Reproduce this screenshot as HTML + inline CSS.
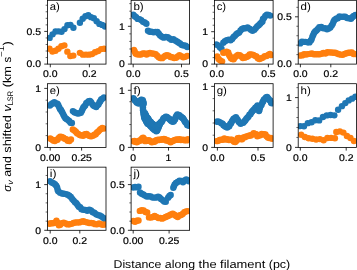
<!DOCTYPE html><html><head><meta charset="utf-8"><style>html,body{margin:0;padding:0;background:#fff;}svg{display:block;will-change:transform;} .L{stroke:none;}text{font-family:"Liberation Sans",sans-serif;fill:#000;stroke:#000;stroke-width:0.2px;text-rendering:geometricPrecision;}</style></head><body>
<svg width="357" height="270" viewBox="0 0 357 270">
<rect width="357" height="270" fill="#fff"/>
<defs>
<clipPath id="ca"><rect x="47.45" y="0.3" width="58.55" height="63.8"/></clipPath>
<clipPath id="cb"><rect x="131.1" y="0.3" width="58.5" height="63.8"/></clipPath>
<clipPath id="cc"><rect x="214.4" y="0.3" width="58.7" height="63.8"/></clipPath>
<clipPath id="cd"><rect x="298.2" y="0.3" width="58.2" height="63.8"/></clipPath>
<clipPath id="ce"><rect x="47.45" y="83.7" width="58.55" height="63.7"/></clipPath>
<clipPath id="cf"><rect x="131.1" y="83.7" width="58.5" height="63.7"/></clipPath>
<clipPath id="cg"><rect x="214.4" y="83.7" width="58.7" height="63.7"/></clipPath>
<clipPath id="ch"><rect x="298.2" y="83.7" width="58.2" height="63.7"/></clipPath>
<clipPath id="ci"><rect x="47.45" y="167.15" width="58.55" height="63.15"/></clipPath>
<clipPath id="cj"><rect x="131.1" y="167.15" width="58.5" height="63.15"/></clipPath>
</defs>
<g clip-path="url(#ca)">
<g fill="#1f77b4"><circle cx="49.6" cy="37.88" r="3.2"/><circle cx="52.58" cy="34.37" r="3.2"/><circle cx="55.55" cy="31.48" r="3.2"/><circle cx="58.53" cy="31.33" r="3.2"/><circle cx="61.5" cy="31.69" r="3.2"/><circle cx="64.48" cy="29.11" r="3.2"/><circle cx="67.45" cy="25.31" r="3.2"/><circle cx="70.43" cy="24.91" r="3.2"/><circle cx="73.4" cy="27.81" r="3.2"/><circle cx="79.9" cy="22.7" r="3.2"/><circle cx="82.69" cy="18.77" r="3.2"/><circle cx="85.48" cy="16.3" r="3.2"/><circle cx="88.27" cy="15.2" r="3.2"/><circle cx="91.06" cy="17.17" r="3.2"/><circle cx="93.84" cy="18.17" r="3.2"/><circle cx="96.63" cy="21.31" r="3.2"/><circle cx="99.42" cy="23.91" r="3.2"/><circle cx="102.21" cy="24.92" r="3.2"/><circle cx="105" cy="26.48" r="3.2"/></g>
<g fill="#ff7f0e"><circle cx="49.5" cy="48.76" r="3.2"/><circle cx="52.48" cy="51.43" r="3.2"/><circle cx="55.45" cy="50.8" r="3.2"/><circle cx="58.42" cy="48.75" r="3.2"/><circle cx="61.4" cy="46.24" r="3.2"/><circle cx="64.38" cy="45.33" r="3.2"/><circle cx="67.35" cy="51.66" r="3.2"/><circle cx="70.32" cy="56" r="3.2"/><circle cx="73.3" cy="55.58" r="3.2"/><circle cx="79.9" cy="52.83" r="3.2"/><circle cx="82.94" cy="54.63" r="3.2"/><circle cx="85.98" cy="54.59" r="3.2"/><circle cx="89.01" cy="54.67" r="3.2"/><circle cx="92.05" cy="54.12" r="3.2"/><circle cx="95.09" cy="52.3" r="3.2"/><circle cx="98.12" cy="51.12" r="3.2"/><circle cx="101.16" cy="49.11" r="3.2"/><circle cx="104.2" cy="48.8" r="3.2"/></g>
</g>
<path d="M47.45 57.56h-1.8M47.45 51.02h-1.8M47.45 44.48h-1.8M47.45 37.94h-1.8M47.45 24.86h-1.8M47.45 18.32h-1.8M47.45 11.78h-1.8M47.45 5.24h-1.8" stroke="#000" stroke-width="0.6" fill="none"/>
<path d="M47.45 64.1h-3.2M47.45 31.4h-3.2M50.3 64.1v3.2M89.4 64.1v3.2" stroke="#000" stroke-width="0.8" fill="none"/>
<rect x="47.45" y="0.3" width="58.55" height="63.8" fill="none" stroke="#000" stroke-width="0.8"/>
<text x="41.05" y="67.45" font-size="9.6" text-anchor="end" textLength="14.5" lengthAdjust="spacingAndGlyphs">0.0</text>
<text x="41.05" y="34.75" font-size="9.6" text-anchor="end" textLength="14.5" lengthAdjust="spacingAndGlyphs">0.5</text>
<text x="50.3" y="77.43" font-size="9.6" text-anchor="middle" textLength="14.5" lengthAdjust="spacingAndGlyphs">0.0</text>
<text x="89.4" y="77.43" font-size="9.6" text-anchor="middle" textLength="14.5" lengthAdjust="spacingAndGlyphs">0.2</text>
<text class="L" x="49.75" y="10.2" font-size="10.6" textLength="10.03" lengthAdjust="spacingAndGlyphs">a)</text>
<g clip-path="url(#cb)">
<g fill="#1f77b4"><circle cx="133.3" cy="14.59" r="3.2"/><circle cx="134.7" cy="16.15" r="3.2"/><circle cx="136.13" cy="17.16" r="3.2"/><circle cx="137.78" cy="18.89" r="3.2"/><circle cx="139.49" cy="19.09" r="3.2"/><circle cx="141.24" cy="20.08" r="3.2"/><circle cx="143.04" cy="21.85" r="3.2"/><circle cx="144.75" cy="22.49" r="3.2"/><circle cx="146.4" cy="23.69" r="3.2"/><circle cx="148" cy="30.63" r="3.2"/><circle cx="149.67" cy="31.82" r="3.2"/><circle cx="151.47" cy="31.72" r="3.2"/><circle cx="153.46" cy="32.24" r="3.2"/><circle cx="155.45" cy="32" r="3.2"/><circle cx="157.44" cy="31.88" r="3.2"/><circle cx="158.83" cy="33.69" r="3.2"/><circle cx="160.18" cy="35.55" r="3.2"/><circle cx="161.94" cy="36.75" r="3.2"/><circle cx="163.75" cy="37.67" r="3.2"/><circle cx="165.79" cy="36.83" r="3.2"/><circle cx="167.74" cy="37.18" r="3.2"/><circle cx="169.47" cy="38.39" r="3.2"/><circle cx="171.29" cy="39.87" r="3.2"/><circle cx="173.34" cy="39.29" r="3.2"/><circle cx="175.24" cy="40.54" r="3.2"/><circle cx="176.99" cy="41.44" r="3.2"/><circle cx="178.44" cy="42.54" r="3.2"/><circle cx="180.03" cy="43.48" r="3.2"/><circle cx="181.85" cy="45.05" r="3.2"/><circle cx="183.86" cy="45.47" r="3.2"/><circle cx="185.61" cy="45.59" r="3.2"/><circle cx="187.2" cy="47.03" r="3.2"/></g>
<g fill="#ff7f0e"><circle cx="133.9" cy="49.85" r="3.2"/><circle cx="134.72" cy="51.39" r="3.2"/><circle cx="135.55" cy="53.54" r="3.2"/><circle cx="136.99" cy="54.2" r="3.2"/><circle cx="138.91" cy="54.6" r="3.2"/><circle cx="140.9" cy="54.54" r="3.2"/><circle cx="142.82" cy="53.55" r="3.2"/><circle cx="144.72" cy="53.52" r="3.2"/><circle cx="146.58" cy="54.56" r="3.2"/><circle cx="148.1" cy="53.52" r="3.2"/><circle cx="149.94" cy="53" r="3.2"/><circle cx="151.86" cy="53.53" r="3.2"/><circle cx="153.85" cy="53.72" r="3.2"/><circle cx="155.66" cy="54.3" r="3.2"/><circle cx="157.21" cy="55.65" r="3.2"/><circle cx="158.75" cy="57.33" r="3.2"/><circle cx="160.3" cy="58.06" r="3.2"/><circle cx="162.23" cy="58.15" r="3.2"/><circle cx="164.04" cy="56.76" r="3.2"/><circle cx="165.42" cy="55.61" r="3.2"/><circle cx="166.94" cy="55.24" r="3.2"/><circle cx="168.71" cy="55.74" r="3.2"/><circle cx="170.49" cy="57.06" r="3.2"/><circle cx="172.28" cy="57.27" r="3.2"/><circle cx="174.13" cy="58.09" r="3.2"/><circle cx="176.07" cy="57.8" r="3.2"/><circle cx="177.81" cy="56.4" r="3.2"/><circle cx="179.47" cy="55.23" r="3.2"/><circle cx="181.36" cy="56.25" r="3.2"/><circle cx="183.29" cy="57.23" r="3.2"/><circle cx="185.24" cy="56.84" r="3.2"/><circle cx="187.2" cy="55.9" r="3.2"/></g>
</g>
<path d="M131.1 56.54h-1.8M131.1 48.98h-1.8M131.1 41.42h-1.8M131.1 33.86h-1.8M131.1 18.74h-1.8M131.1 11.18h-1.8M131.1 3.62h-1.8" stroke="#000" stroke-width="0.6" fill="none"/>
<path d="M131.1 64.1h-3.2M131.1 26.3h-3.2M133.2 64.1v3.2M181.5 64.1v3.2" stroke="#000" stroke-width="0.8" fill="none"/>
<rect x="131.1" y="0.3" width="58.5" height="63.8" fill="none" stroke="#000" stroke-width="0.8"/>
<text x="124.7" y="67.45" font-size="9.6" text-anchor="end" textLength="5.8" lengthAdjust="spacingAndGlyphs">0</text>
<text x="124.7" y="29.65" font-size="9.6" text-anchor="end" textLength="5.8" lengthAdjust="spacingAndGlyphs">1</text>
<text x="133.2" y="77.43" font-size="9.6" text-anchor="middle" textLength="14.5" lengthAdjust="spacingAndGlyphs">0.0</text>
<text x="181.5" y="77.43" font-size="9.6" text-anchor="middle" textLength="14.5" lengthAdjust="spacingAndGlyphs">0.5</text>
<text class="L" x="133.4" y="10.2" font-size="10.6" textLength="10.25" lengthAdjust="spacingAndGlyphs">b)</text>
<g clip-path="url(#cc)">
<g fill="#1f77b4"><circle cx="216.3" cy="44.46" r="3.2"/><circle cx="218.13" cy="45.35" r="3.2"/><circle cx="219.85" cy="47.36" r="3.2"/><circle cx="221.5" cy="48.68" r="3.2"/><circle cx="223.3" cy="42.82" r="3.2"/><circle cx="224.96" cy="41.31" r="3.2"/><circle cx="226.7" cy="40.32" r="3.2"/><circle cx="228.58" cy="39.62" r="3.2"/><circle cx="230.56" cy="40.34" r="3.2"/><circle cx="232.12" cy="38.99" r="3.2"/><circle cx="233.52" cy="36.99" r="3.2"/><circle cx="234.91" cy="35.86" r="3.2"/><circle cx="236.31" cy="34.22" r="3.2"/><circle cx="237.71" cy="33.17" r="3.2"/><circle cx="239.11" cy="32.59" r="3.2"/><circle cx="240.51" cy="30.46" r="3.2"/><circle cx="242.01" cy="28.95" r="3.2"/><circle cx="243.76" cy="28.28" r="3.2"/><circle cx="245.63" cy="28.25" r="3.2"/><circle cx="247.54" cy="27.42" r="3.2"/><circle cx="249.42" cy="28.58" r="3.2"/><circle cx="250.9" cy="29.81" r="3.2"/><circle cx="252.51" cy="30.81" r="3.2"/><circle cx="254.38" cy="29.81" r="3.2"/><circle cx="255.81" cy="28.08" r="3.2"/><circle cx="257.22" cy="26.35" r="3.2"/><circle cx="258.73" cy="25.29" r="3.2"/><circle cx="260.16" cy="23.79" r="3.2"/><circle cx="261.46" cy="22.33" r="3.2"/><circle cx="262.47" cy="21.49" r="3.2"/><circle cx="262.97" cy="18.84" r="3.2"/><circle cx="263.94" cy="18.1" r="3.2"/><circle cx="265.33" cy="15.96" r="3.2"/><circle cx="266.85" cy="14.68" r="3.2"/><circle cx="268.5" cy="14.85" r="3.2"/><circle cx="270.2" cy="15.62" r="3.2"/></g>
<g fill="#ff7f0e"><circle cx="217.2" cy="56.44" r="3.2"/><circle cx="218.61" cy="58.94" r="3.2"/><circle cx="220.11" cy="60.36" r="3.2"/><circle cx="222.1" cy="61.45" r="3.2"/><circle cx="223.3" cy="52.69" r="3.2"/><circle cx="224.96" cy="52.46" r="3.2"/><circle cx="226.62" cy="51.77" r="3.2"/><circle cx="228.28" cy="52.55" r="3.2"/><circle cx="229.13" cy="54.92" r="3.2"/><circle cx="229.86" cy="56.13" r="3.2"/><circle cx="230.95" cy="58.18" r="3.2"/><circle cx="232.36" cy="59.02" r="3.2"/><circle cx="233.63" cy="59.33" r="3.2"/><circle cx="234.83" cy="57.49" r="3.2"/><circle cx="236.26" cy="56.09" r="3.2"/><circle cx="237.89" cy="55.07" r="3.2"/><circle cx="239.75" cy="55.32" r="3.2"/><circle cx="241.38" cy="56.41" r="3.2"/><circle cx="242.81" cy="57.99" r="3.2"/><circle cx="244.53" cy="57.67" r="3.2"/><circle cx="246.35" cy="57.02" r="3.2"/><circle cx="248.01" cy="56.23" r="3.2"/><circle cx="249.67" cy="54.46" r="3.2"/><circle cx="251.37" cy="54.33" r="3.2"/><circle cx="253.32" cy="54.84" r="3.2"/><circle cx="254.94" cy="55.85" r="3.2"/><circle cx="256.47" cy="56.49" r="3.2"/><circle cx="257.87" cy="58.34" r="3.2"/><circle cx="259.4" cy="59.02" r="3.2"/><circle cx="261.28" cy="58.23" r="3.2"/><circle cx="262.96" cy="57.62" r="3.2"/><circle cx="264.69" cy="56.11" r="3.2"/><circle cx="266.56" cy="56.08" r="3.2"/><circle cx="268.24" cy="54.99" r="3.2"/><circle cx="269.86" cy="54.04" r="3.2"/><circle cx="271.4" cy="55.15" r="3.2"/></g>
</g>
<path d="M214.4 57.62h-1.8M214.4 51.14h-1.8M214.4 44.66h-1.8M214.4 38.18h-1.8M214.4 25.22h-1.8M214.4 18.74h-1.8M214.4 12.26h-1.8M214.4 5.78h-1.8" stroke="#000" stroke-width="0.6" fill="none"/>
<path d="M214.4 64.1h-3.2M214.4 31.7h-3.2M216.8 64.1v3.2M268.4 64.1v3.2" stroke="#000" stroke-width="0.8" fill="none"/>
<rect x="214.4" y="0.3" width="58.7" height="63.8" fill="none" stroke="#000" stroke-width="0.8"/>
<text x="208" y="67.45" font-size="9.6" text-anchor="end" textLength="5.8" lengthAdjust="spacingAndGlyphs">0</text>
<text x="208" y="35.05" font-size="9.6" text-anchor="end" textLength="5.8" lengthAdjust="spacingAndGlyphs">1</text>
<text x="216.8" y="77.43" font-size="9.6" text-anchor="middle" textLength="14.5" lengthAdjust="spacingAndGlyphs">0.0</text>
<text x="268.4" y="77.43" font-size="9.6" text-anchor="middle" textLength="14.5" lengthAdjust="spacingAndGlyphs">0.5</text>
<text class="L" x="216.7" y="10.2" font-size="10.6" textLength="9.4" lengthAdjust="spacingAndGlyphs">c)</text>
<g clip-path="url(#cd)">
<g fill="#1f77b4"><circle cx="300.2" cy="43.41" r="3.2"/><circle cx="301.88" cy="41.75" r="3.2"/><circle cx="303.66" cy="41.85" r="3.2"/><circle cx="305.57" cy="41.9" r="3.2"/><circle cx="307.54" cy="42.37" r="3.2"/><circle cx="309.37" cy="42.38" r="3.2"/><circle cx="310.84" cy="40.51" r="3.2"/><circle cx="311.6" cy="39.34" r="3.2"/><circle cx="312.35" cy="36.63" r="3.2"/><circle cx="313.19" cy="35.03" r="3.2"/><circle cx="314.04" cy="32.89" r="3.2"/><circle cx="315.15" cy="31.38" r="3.2"/><circle cx="316.48" cy="30.44" r="3.2"/><circle cx="317.88" cy="28.98" r="3.2"/><circle cx="319.3" cy="27.23" r="3.2"/><circle cx="321.3" cy="27.05" r="3.2"/><circle cx="323.24" cy="28.36" r="3.2"/><circle cx="325.14" cy="28.24" r="3.2"/><circle cx="327.03" cy="29.2" r="3.2"/><circle cx="328.72" cy="28.55" r="3.2"/><circle cx="330.28" cy="27.4" r="3.2"/><circle cx="331.7" cy="25.41" r="3.2"/><circle cx="332.74" cy="23.83" r="3.2"/><circle cx="333.49" cy="21.73" r="3.2"/><circle cx="334.44" cy="20.01" r="3.2"/><circle cx="336.11" cy="18.79" r="3.2"/><circle cx="337.79" cy="18.16" r="3.2"/><circle cx="339.48" cy="16.49" r="3.2"/><circle cx="341.37" cy="16.87" r="3.2"/><circle cx="343.26" cy="16.72" r="3.2"/><circle cx="345.16" cy="16.63" r="3.2"/><circle cx="347.08" cy="18.01" r="3.2"/><circle cx="349.04" cy="18.34" r="3.2"/><circle cx="351" cy="18.81" r="3.2"/><circle cx="352.33" cy="17.19" r="3.2"/><circle cx="353.66" cy="16.05" r="3.2"/><circle cx="355.5" cy="14.86" r="3.2"/></g>
<g fill="#ff7f0e"><circle cx="300.2" cy="55.55" r="3.2"/><circle cx="302.12" cy="55.42" r="3.2"/><circle cx="304.04" cy="54.28" r="3.2"/><circle cx="306" cy="54.54" r="3.2"/><circle cx="307.95" cy="54.09" r="3.2"/><circle cx="309.9" cy="53.86" r="3.2"/><circle cx="311.85" cy="53.43" r="3.2"/><circle cx="313.8" cy="54.22" r="3.2"/><circle cx="315.75" cy="54.29" r="3.2"/><circle cx="317.71" cy="54.31" r="3.2"/><circle cx="319.66" cy="54.2" r="3.2"/><circle cx="321.6" cy="53.82" r="3.2"/><circle cx="323.49" cy="53.07" r="3.2"/><circle cx="325.41" cy="53.59" r="3.2"/><circle cx="327.37" cy="52.32" r="3.2"/><circle cx="329.33" cy="52.39" r="3.2"/><circle cx="331.29" cy="52.38" r="3.2"/><circle cx="333.22" cy="52.77" r="3.2"/><circle cx="335.14" cy="52.69" r="3.2"/><circle cx="337.04" cy="53.46" r="3.2"/><circle cx="338.94" cy="54.17" r="3.2"/><circle cx="340.87" cy="54.63" r="3.2"/><circle cx="342.8" cy="54.87" r="3.2"/><circle cx="344.73" cy="53.84" r="3.2"/><circle cx="346.6" cy="53.3" r="3.2"/><circle cx="348.43" cy="52.73" r="3.2"/><circle cx="350.22" cy="52.63" r="3.2"/><circle cx="351.89" cy="52.55" r="3.2"/><circle cx="353.58" cy="54.07" r="3.2"/><circle cx="355.4" cy="54.12" r="3.2"/></g>
</g>
<path d="M298.2 54.64h-1.8M298.2 45.18h-1.8M298.2 35.72h-1.8M298.2 26.26h-1.8M298.2 7.34h-1.8" stroke="#000" stroke-width="0.6" fill="none"/>
<path d="M298.2 64.1h-3.2M298.2 16.8h-3.2M300.4 64.1v3.2M330.8 64.1v3.2" stroke="#000" stroke-width="0.8" fill="none"/>
<rect x="298.2" y="0.3" width="58.2" height="63.8" fill="none" stroke="#000" stroke-width="0.8"/>
<text x="291.8" y="67.45" font-size="9.6" text-anchor="end" textLength="14.5" lengthAdjust="spacingAndGlyphs">0.0</text>
<text x="291.8" y="20.15" font-size="9.6" text-anchor="end" textLength="14.5" lengthAdjust="spacingAndGlyphs">0.5</text>
<text x="300.4" y="77.43" font-size="9.6" text-anchor="middle" textLength="14.5" lengthAdjust="spacingAndGlyphs">0.0</text>
<text x="330.8" y="77.43" font-size="9.6" text-anchor="middle" textLength="14.5" lengthAdjust="spacingAndGlyphs">0.2</text>
<text class="L" x="300.5" y="10.2" font-size="10.6" textLength="10.25" lengthAdjust="spacingAndGlyphs">d)</text>
<g clip-path="url(#ce)">
<g fill="#1f77b4"><circle cx="49.9" cy="105.54" r="3.2"/><circle cx="51.24" cy="104.13" r="3.2"/><circle cx="52.71" cy="103.23" r="3.2"/><circle cx="54.31" cy="102.26" r="3.2"/><circle cx="55.92" cy="103.52" r="3.2"/><circle cx="57.38" cy="103.67" r="3.2"/><circle cx="58.3" cy="105.24" r="3.2"/><circle cx="59.21" cy="107.18" r="3.2"/><circle cx="60.03" cy="109.12" r="3.2"/><circle cx="60.82" cy="109.66" r="3.2"/><circle cx="61.61" cy="111.17" r="3.2"/><circle cx="62.47" cy="112.65" r="3.2"/><circle cx="63.4" cy="114.66" r="3.2"/><circle cx="64.33" cy="116.41" r="3.2"/><circle cx="65.42" cy="118.13" r="3.2"/><circle cx="66.53" cy="119.03" r="3.2"/><circle cx="67.76" cy="119.86" r="3.2"/><circle cx="69.15" cy="120.92" r="3.2"/><circle cx="70.53" cy="122.77" r="3.2"/><circle cx="71.9" cy="123" r="3.2"/><circle cx="72.9" cy="111.11" r="3.2"/><circle cx="74.35" cy="112.24" r="3.2"/><circle cx="75.84" cy="112.86" r="3.2"/><circle cx="77.59" cy="113.61" r="3.2"/><circle cx="79.25" cy="113.33" r="3.2"/><circle cx="80.83" cy="112.74" r="3.2"/><circle cx="81.79" cy="110.88" r="3.2"/><circle cx="82.55" cy="109.22" r="3.2"/><circle cx="83.31" cy="107.53" r="3.2"/><circle cx="84.11" cy="106.61" r="3.2"/><circle cx="85.17" cy="105.42" r="3.2"/><circle cx="86.24" cy="103.27" r="3.2"/><circle cx="87.42" cy="102.39" r="3.2"/><circle cx="88.7" cy="101.18" r="3.2"/><circle cx="89.96" cy="100.94" r="3.2"/><circle cx="91.17" cy="102.2" r="3.2"/><circle cx="92.25" cy="104.09" r="3.2"/><circle cx="93.33" cy="105.6" r="3.2"/><circle cx="94.71" cy="106.16" r="3.2"/><circle cx="96.2" cy="107.03" r="3.2"/><circle cx="97.32" cy="105.3" r="3.2"/><circle cx="98.44" cy="104.59" r="3.2"/><circle cx="99.4" cy="102.44" r="3.2"/><circle cx="100.29" cy="101.24" r="3.2"/><circle cx="101.18" cy="99.57" r="3.2"/><circle cx="102.51" cy="98.58" r="3.2"/><circle cx="104" cy="97.52" r="3.2"/></g>
<g fill="#ff7f0e"><circle cx="50.2" cy="138.47" r="3.2"/><circle cx="51.66" cy="139.35" r="3.2"/><circle cx="53.18" cy="140.51" r="3.2"/><circle cx="54.86" cy="141" r="3.2"/><circle cx="56.24" cy="139.9" r="3.2"/><circle cx="57.48" cy="139.65" r="3.2"/><circle cx="58.78" cy="137.87" r="3.2"/><circle cx="60.14" cy="136.63" r="3.2"/><circle cx="61.7" cy="137.03" r="3.2"/><circle cx="63.34" cy="137.73" r="3.2"/><circle cx="64.72" cy="138.66" r="3.2"/><circle cx="66.15" cy="139.13" r="3.2"/><circle cx="67.72" cy="140.86" r="3.2"/><circle cx="69.34" cy="141.12" r="3.2"/><circle cx="71" cy="139.52" r="3.2"/><circle cx="72.8" cy="129.44" r="3.2"/><circle cx="74.42" cy="130.38" r="3.2"/><circle cx="75.86" cy="131.78" r="3.2"/><circle cx="77.01" cy="133.16" r="3.2"/><circle cx="78.22" cy="133.86" r="3.2"/><circle cx="79.79" cy="135.06" r="3.2"/><circle cx="81.45" cy="135.42" r="3.2"/><circle cx="83.21" cy="135.73" r="3.2"/><circle cx="84.9" cy="134.13" r="3.2"/><circle cx="86.59" cy="134.07" r="3.2"/><circle cx="88.28" cy="135.36" r="3.2"/><circle cx="89.79" cy="136.05" r="3.2"/><circle cx="91.31" cy="136.25" r="3.2"/><circle cx="92.94" cy="135.65" r="3.2"/><circle cx="94.39" cy="134.82" r="3.2"/><circle cx="95.73" cy="134.26" r="3.2"/><circle cx="97.02" cy="132.42" r="3.2"/><circle cx="98.29" cy="131.59" r="3.2"/><circle cx="99.55" cy="130.12" r="3.2"/><circle cx="100.82" cy="128.97" r="3.2"/><circle cx="102.31" cy="127.98" r="3.2"/><circle cx="104" cy="128.6" r="3.2"/></g>
</g>
<path d="M47.45 135.6h-1.8M47.45 123.8h-1.8M47.45 112h-1.8M47.45 100.2h-1.8" stroke="#000" stroke-width="0.6" fill="none"/>
<path d="M47.45 147.4h-3.2M47.45 88.4h-3.2M50.2 147.4v3.2M81.6 147.4v3.2" stroke="#000" stroke-width="0.8" fill="none"/>
<rect x="47.45" y="83.7" width="58.55" height="63.7" fill="none" stroke="#000" stroke-width="0.8"/>
<text x="41.05" y="150.75" font-size="9.6" text-anchor="end" textLength="5.8" lengthAdjust="spacingAndGlyphs">0</text>
<text x="41.05" y="91.75" font-size="9.6" text-anchor="end" textLength="5.8" lengthAdjust="spacingAndGlyphs">1</text>
<text x="50.2" y="160.73" font-size="9.6" text-anchor="middle" textLength="20.31" lengthAdjust="spacingAndGlyphs">0.00</text>
<text x="81.6" y="160.73" font-size="9.6" text-anchor="middle" textLength="20.31" lengthAdjust="spacingAndGlyphs">0.25</text>
<text class="L" x="49.75" y="93.6" font-size="10.6" textLength="10.05" lengthAdjust="spacingAndGlyphs">e)</text>
<g clip-path="url(#cf)">
<g fill="#1f77b4"><circle cx="133.3" cy="98.11" r="3.2"/><circle cx="134.15" cy="99.4" r="3.2"/><circle cx="135" cy="100.55" r="3.2"/><circle cx="135.82" cy="100.89" r="3.2"/><circle cx="136.65" cy="102.41" r="3.2"/><circle cx="137.59" cy="102.81" r="3.2"/><circle cx="138.55" cy="103.49" r="3.2"/><circle cx="139.33" cy="102.97" r="3.2"/><circle cx="139.85" cy="102.47" r="3.2"/><circle cx="140.38" cy="101.25" r="3.2"/><circle cx="140.91" cy="99.84" r="3.2"/><circle cx="141.68" cy="99.82" r="3.2"/><circle cx="142.77" cy="100.09" r="3.2"/><circle cx="143.16" cy="101.45" r="3.2"/><circle cx="143.45" cy="102.94" r="3.2"/><circle cx="143.48" cy="103.57" r="3.2"/><circle cx="143.23" cy="104.14" r="3.2"/><circle cx="142.98" cy="105.34" r="3.2"/><circle cx="142.92" cy="106.94" r="3.2"/><circle cx="142.96" cy="107.83" r="3.2"/><circle cx="142.99" cy="109.87" r="3.2"/><circle cx="143.13" cy="110.37" r="3.2"/><circle cx="143.31" cy="111.33" r="3.2"/><circle cx="143.48" cy="112.98" r="3.2"/><circle cx="143.72" cy="114.41" r="3.2"/><circle cx="143.97" cy="115.94" r="3.2"/><circle cx="144.22" cy="117" r="3.2"/><circle cx="144.47" cy="118.17" r="3.2"/><circle cx="144.88" cy="118.41" r="3.2"/><circle cx="145.49" cy="119.99" r="3.2"/><circle cx="146.1" cy="121.2" r="3.2"/><circle cx="146.71" cy="122.29" r="3.2"/><circle cx="147.37" cy="123.49" r="3.2"/><circle cx="148.22" cy="124.05" r="3.2"/><circle cx="149.07" cy="124.57" r="3.2"/><circle cx="149.91" cy="125.22" r="3.2"/><circle cx="150.76" cy="126.52" r="3.2"/><circle cx="151.61" cy="126.63" r="3.2"/><circle cx="152.47" cy="128.15" r="3.2"/><circle cx="153.48" cy="129.1" r="3.2"/><circle cx="154.48" cy="129.93" r="3.2"/><circle cx="155.42" cy="130.1" r="3.2"/><circle cx="156.29" cy="131.25" r="3.2"/><circle cx="156.99" cy="130.78" r="3.2"/><circle cx="157.43" cy="130" r="3.2"/><circle cx="157.87" cy="128.16" r="3.2"/><circle cx="158.31" cy="128.01" r="3.2"/><circle cx="158.72" cy="126.63" r="3.2"/><circle cx="159.12" cy="125.82" r="3.2"/><circle cx="159.6" cy="124.65" r="3.2"/><circle cx="160.31" cy="123.19" r="3.2"/><circle cx="161.03" cy="122.09" r="3.2"/><circle cx="161.74" cy="121.72" r="3.2"/><circle cx="162.46" cy="120.53" r="3.2"/><circle cx="163.18" cy="118.83" r="3.2"/><circle cx="163.89" cy="118.06" r="3.2"/><circle cx="164.61" cy="118.02" r="3.2"/><circle cx="165.76" cy="116.59" r="3.2"/><circle cx="166.91" cy="116.96" r="3.2"/><circle cx="167.83" cy="117.86" r="3.2"/><circle cx="168.68" cy="118.48" r="3.2"/><circle cx="169.53" cy="118.97" r="3.2"/><circle cx="170.34" cy="120.09" r="3.2"/><circle cx="171.14" cy="120.73" r="3.2"/><circle cx="171.93" cy="121.21" r="3.2"/><circle cx="172.87" cy="121.8" r="3.2"/><circle cx="173.85" cy="121.17" r="3.2"/><circle cx="174.66" cy="119.49" r="3.2"/><circle cx="175.12" cy="119.3" r="3.2"/><circle cx="175.58" cy="117.37" r="3.2"/><circle cx="176.04" cy="116.84" r="3.2"/><circle cx="176.5" cy="115.77" r="3.2"/><circle cx="177.37" cy="114.38" r="3.2"/><circle cx="178.57" cy="115.03" r="3.2"/><circle cx="179.64" cy="115.43" r="3.2"/><circle cx="180.5" cy="116.62" r="3.2"/><circle cx="181.37" cy="116.88" r="3.2"/><circle cx="182.19" cy="117.71" r="3.2"/><circle cx="182.91" cy="118.23" r="3.2"/><circle cx="183.62" cy="119.1" r="3.2"/><circle cx="184.34" cy="120.51" r="3.2"/><circle cx="185.05" cy="121.82" r="3.2"/><circle cx="185.77" cy="122.39" r="3.2"/><circle cx="186.49" cy="123.31" r="3.2"/><circle cx="187.2" cy="124.9" r="3.2"/><circle cx="188.05" cy="125.15" r="3.2"/><circle cx="188.9" cy="125.8" r="3.2"/><circle cx="145" cy="113.32" r="3.2"/><circle cx="145.48" cy="114.45" r="3.2"/><circle cx="145.97" cy="115.53" r="3.2"/><circle cx="146.45" cy="116.33" r="3.2"/><circle cx="146.94" cy="117.67" r="3.2"/><circle cx="147.62" cy="117.92" r="3.2"/><circle cx="148.34" cy="118.7" r="3.2"/><circle cx="149.05" cy="120.23" r="3.2"/><circle cx="149.77" cy="121.61" r="3.2"/><circle cx="150.61" cy="121.75" r="3.2"/><circle cx="151.52" cy="122.85" r="3.2"/><circle cx="152.42" cy="123.79" r="3.2"/><circle cx="153.33" cy="124.57" r="3.2"/><circle cx="154.3" cy="125.28" r="3.2"/><circle cx="155.29" cy="125.57" r="3.2"/><circle cx="156.28" cy="126.28" r="3.2"/><circle cx="157.25" cy="125.76" r="3.2"/><circle cx="158.2" cy="124.76" r="3.2"/><circle cx="159.01" cy="124.05" r="3.2"/><circle cx="159.76" cy="123.99" r="3.2"/><circle cx="160.5" cy="122.57" r="3.2"/></g>
<g fill="#ff7f0e"><circle cx="133.3" cy="141.3" r="3.2"/><circle cx="134.47" cy="140.89" r="3.2"/><circle cx="135.63" cy="141.9" r="3.2"/><circle cx="136.8" cy="142.33" r="3.2"/><circle cx="137.97" cy="141.53" r="3.2"/><circle cx="139.13" cy="140.8" r="3.2"/><circle cx="140.3" cy="140.44" r="3.2"/><circle cx="141.02" cy="140.16" r="3.2"/><circle cx="141.74" cy="139" r="3.2"/><circle cx="142.46" cy="138.24" r="3.2"/><circle cx="143.17" cy="137.63" r="3.2"/><circle cx="143.89" cy="138.6" r="3.2"/><circle cx="144.61" cy="140.4" r="3.2"/><circle cx="145.33" cy="141.14" r="3.2"/><circle cx="146.37" cy="140.4" r="3.2"/><circle cx="147.51" cy="140.7" r="3.2"/><circle cx="148.65" cy="140.29" r="3.2"/><circle cx="149.79" cy="140.64" r="3.2"/><circle cx="150.9" cy="141.48" r="3.2"/><circle cx="151.91" cy="142.23" r="3.2"/><circle cx="152.92" cy="141.86" r="3.2"/><circle cx="153.9" cy="141.85" r="3.2"/><circle cx="154.87" cy="141.5" r="3.2"/><circle cx="155.83" cy="140.52" r="3.2"/><circle cx="156.8" cy="140.17" r="3.2"/><circle cx="158" cy="139.69" r="3.2"/><circle cx="159.21" cy="139.96" r="3.2"/><circle cx="160.41" cy="139.81" r="3.2"/><circle cx="161.58" cy="139.46" r="3.2"/><circle cx="162.74" cy="139.49" r="3.2"/><circle cx="163.9" cy="139.04" r="3.2"/><circle cx="165.02" cy="139.18" r="3.2"/><circle cx="166.13" cy="140.5" r="3.2"/><circle cx="167.25" cy="140.14" r="3.2"/><circle cx="168.38" cy="140.79" r="3.2"/><circle cx="169.51" cy="141.43" r="3.2"/><circle cx="170.64" cy="142.36" r="3.2"/><circle cx="171.71" cy="141.27" r="3.2"/><circle cx="172.78" cy="141.12" r="3.2"/><circle cx="173.84" cy="140.34" r="3.2"/><circle cx="174.98" cy="140.04" r="3.2"/><circle cx="176.15" cy="139.7" r="3.2"/><circle cx="177.32" cy="139.55" r="3.2"/><circle cx="178.48" cy="139.87" r="3.2"/><circle cx="179.65" cy="139.3" r="3.2"/><circle cx="180.82" cy="139.98" r="3.2"/><circle cx="182.01" cy="139.86" r="3.2"/><circle cx="183.22" cy="139.8" r="3.2"/><circle cx="184.42" cy="140.37" r="3.2"/><circle cx="185.62" cy="139.98" r="3.2"/><circle cx="186.81" cy="140.35" r="3.2"/><circle cx="188" cy="139.27" r="3.2"/></g>
</g>
<path d="M131.1 135.98h-1.8M131.1 124.56h-1.8M131.1 113.14h-1.8M131.1 101.72h-1.8" stroke="#000" stroke-width="0.6" fill="none"/>
<path d="M131.1 147.4h-3.2M131.1 90.3h-3.2M133.2 147.4v3.2M168.5 147.4v3.2" stroke="#000" stroke-width="0.8" fill="none"/>
<rect x="131.1" y="83.7" width="58.5" height="63.7" fill="none" stroke="#000" stroke-width="0.8"/>
<text x="124.7" y="150.75" font-size="9.6" text-anchor="end" textLength="5.8" lengthAdjust="spacingAndGlyphs">0</text>
<text x="124.7" y="93.65" font-size="9.6" text-anchor="end" textLength="5.8" lengthAdjust="spacingAndGlyphs">1</text>
<text x="133.2" y="160.73" font-size="9.6" text-anchor="middle" textLength="5.8" lengthAdjust="spacingAndGlyphs">0</text>
<text x="168.5" y="160.73" font-size="9.6" text-anchor="middle" textLength="5.8" lengthAdjust="spacingAndGlyphs">1</text>
<text class="L" x="133.4" y="93.6" font-size="10.6" textLength="7.42" lengthAdjust="spacingAndGlyphs">f)</text>
<g clip-path="url(#cg)">
<g fill="#1f77b4"><circle cx="216.6" cy="121.7" r="3.2"/><circle cx="218.19" cy="121.49" r="3.2"/><circle cx="219.75" cy="122.12" r="3.2"/><circle cx="221.22" cy="123.13" r="3.2"/><circle cx="222.52" cy="123.59" r="3.2"/><circle cx="223.46" cy="125.28" r="3.2"/><circle cx="224.41" cy="125.76" r="3.2"/><circle cx="225.58" cy="126.78" r="3.2"/><circle cx="227.09" cy="127.49" r="3.2"/><circle cx="228.28" cy="126.58" r="3.2"/><circle cx="229.24" cy="126.21" r="3.2"/><circle cx="230.21" cy="123.97" r="3.2"/><circle cx="231.07" cy="123.26" r="3.2"/><circle cx="231.89" cy="121.35" r="3.2"/><circle cx="232.71" cy="120.25" r="3.2"/><circle cx="233.63" cy="118.62" r="3.2"/><circle cx="234.8" cy="118.26" r="3.2"/><circle cx="235.92" cy="117.2" r="3.2"/><circle cx="236.82" cy="118.63" r="3.2"/><circle cx="237.73" cy="120.03" r="3.2"/><circle cx="238.68" cy="121.69" r="3.2"/><circle cx="239.65" cy="122.59" r="3.2"/><circle cx="240.61" cy="123.87" r="3.2"/><circle cx="241.9" cy="123.11" r="3.2"/><circle cx="243.22" cy="122.73" r="3.2"/><circle cx="244.26" cy="121.53" r="3.2"/><circle cx="245.23" cy="120.42" r="3.2"/><circle cx="246.19" cy="118.89" r="3.2"/><circle cx="247.29" cy="117.68" r="3.2"/><circle cx="248.4" cy="116.69" r="3.2"/><circle cx="249.44" cy="114.59" r="3.2"/><circle cx="250.4" cy="114.35" r="3.2"/><circle cx="251.37" cy="112.56" r="3.2"/><circle cx="252.33" cy="111.23" r="3.2"/><circle cx="253.3" cy="110.23" r="3.2"/><circle cx="254.26" cy="109.19" r="3.2"/><circle cx="255.35" cy="107.7" r="3.2"/><circle cx="256.5" cy="106.94" r="3.2"/><circle cx="257.51" cy="105.55" r="3.2"/><circle cx="258.01" cy="107.29" r="3.2"/><circle cx="258.5" cy="109.32" r="3.2"/><circle cx="259" cy="110.99" r="3.2"/><circle cx="259.38" cy="109.9" r="3.2"/><circle cx="259.69" cy="108.09" r="3.2"/><circle cx="260" cy="107.19" r="3.2"/><circle cx="260.7" cy="105.8" r="3.2"/><circle cx="261.6" cy="104.78" r="3.2"/><circle cx="262.39" cy="102.47" r="3.2"/><circle cx="263.11" cy="101.5" r="3.2"/><circle cx="263.82" cy="99.7" r="3.2"/><circle cx="264.81" cy="98.87" r="3.2"/><circle cx="265.96" cy="97.42" r="3.2"/><circle cx="267.12" cy="96.98" r="3.2"/><circle cx="268.29" cy="98.42" r="3.2"/><circle cx="269.42" cy="100.09" r="3.2"/><circle cx="270.25" cy="100.52" r="3.2"/><circle cx="271.07" cy="102.78" r="3.2"/><circle cx="271.9" cy="103.25" r="3.2"/></g>
<g fill="#ff7f0e"><circle cx="216.6" cy="141.15" r="3.2"/><circle cx="218.15" cy="140.86" r="3.2"/><circle cx="219.69" cy="139.97" r="3.2"/><circle cx="221.24" cy="139.81" r="3.2"/><circle cx="222.78" cy="139.68" r="3.2"/><circle cx="224.33" cy="138.57" r="3.2"/><circle cx="225.87" cy="139.49" r="3.2"/><circle cx="227.42" cy="139.21" r="3.2"/><circle cx="228.96" cy="140.06" r="3.2"/><circle cx="230.51" cy="139.58" r="3.2"/><circle cx="231.87" cy="139.6" r="3.2"/><circle cx="233" cy="140.83" r="3.2"/><circle cx="234.12" cy="141.77" r="3.2"/><circle cx="235.21" cy="141.95" r="3.2"/><circle cx="236.03" cy="141.09" r="3.2"/><circle cx="236.86" cy="140.22" r="3.2"/><circle cx="237.69" cy="138.17" r="3.2"/><circle cx="239.05" cy="137.85" r="3.2"/><circle cx="240.59" cy="139.16" r="3.2"/><circle cx="242.09" cy="139.2" r="3.2"/><circle cx="243.51" cy="137.35" r="3.2"/><circle cx="244.92" cy="137.25" r="3.2"/><circle cx="246.43" cy="136.34" r="3.2"/><circle cx="247.98" cy="136.1" r="3.2"/><circle cx="249.45" cy="135.53" r="3.2"/><circle cx="250.79" cy="135.49" r="3.2"/><circle cx="252.17" cy="134.61" r="3.2"/><circle cx="253.67" cy="133.22" r="3.2"/><circle cx="255.02" cy="133.84" r="3.2"/><circle cx="256.15" cy="134.28" r="3.2"/><circle cx="257.27" cy="136.3" r="3.2"/><circle cx="258.74" cy="135.51" r="3.2"/><circle cx="260.24" cy="135.33" r="3.2"/><circle cx="261.66" cy="133.85" r="3.2"/><circle cx="263.08" cy="134.2" r="3.2"/><circle cx="264.37" cy="134.33" r="3.2"/><circle cx="265.47" cy="134.5" r="3.2"/><circle cx="266.58" cy="136.35" r="3.2"/><circle cx="267.89" cy="137.38" r="3.2"/><circle cx="269.2" cy="138.05" r="3.2"/><circle cx="270.69" cy="138.04" r="3.2"/><circle cx="272.2" cy="138.78" r="3.2"/></g>
</g>
<path d="M214.4 135.2h-1.8M214.4 123h-1.8M214.4 110.8h-1.8M214.4 98.6h-1.8" stroke="#000" stroke-width="0.6" fill="none"/>
<path d="M214.4 147.4h-3.2M214.4 86.4h-3.2M217.4 147.4v3.2M258 147.4v3.2" stroke="#000" stroke-width="0.8" fill="none"/>
<rect x="214.4" y="83.7" width="58.7" height="63.7" fill="none" stroke="#000" stroke-width="0.8"/>
<text x="208" y="150.75" font-size="9.6" text-anchor="end" textLength="5.8" lengthAdjust="spacingAndGlyphs">0</text>
<text x="208" y="89.75" font-size="9.6" text-anchor="end" textLength="5.8" lengthAdjust="spacingAndGlyphs">1</text>
<text x="217.4" y="160.73" font-size="9.6" text-anchor="middle" textLength="14.5" lengthAdjust="spacingAndGlyphs">0.0</text>
<text x="258" y="160.73" font-size="9.6" text-anchor="middle" textLength="14.5" lengthAdjust="spacingAndGlyphs">0.5</text>
<text class="L" x="216.7" y="93.6" font-size="10.6" textLength="10.25" lengthAdjust="spacingAndGlyphs">g)</text>
<g clip-path="url(#ch)">
<g fill="#1f77b4"><circle cx="300.2" cy="126.09" r="3.2"/><circle cx="303.99" cy="126.29" r="3.2"/><circle cx="307.78" cy="123.16" r="3.2"/><circle cx="311.57" cy="122.3" r="3.2"/><circle cx="315.36" cy="120.3" r="3.2"/><circle cx="319.15" cy="120.4" r="3.2"/><circle cx="322.95" cy="116.97" r="3.2"/><circle cx="326.74" cy="115.41" r="3.2"/><circle cx="330.53" cy="114.99" r="3.2"/><circle cx="334.32" cy="115.35" r="3.2"/><circle cx="338.11" cy="109.75" r="3.2"/><circle cx="341.9" cy="106.17" r="3.2"/><circle cx="345.3" cy="103.1" r="3.2"/><circle cx="348.67" cy="100.4" r="3.2"/><circle cx="352.03" cy="98.67" r="3.2"/><circle cx="355.4" cy="96.71" r="3.2"/></g>
<g fill="#ff7f0e"><circle cx="301.1" cy="134.82" r="3.2"/><circle cx="304.86" cy="136.95" r="3.2"/><circle cx="308.61" cy="138.31" r="3.2"/><circle cx="312.37" cy="138.82" r="3.2"/><circle cx="316.12" cy="139.56" r="3.2"/><circle cx="319.88" cy="139.1" r="3.2"/><circle cx="323.63" cy="140.19" r="3.2"/><circle cx="327.39" cy="138.01" r="3.2"/><circle cx="331.14" cy="137.91" r="3.2"/><circle cx="334.9" cy="138.18" r="3.2"/><circle cx="336.3" cy="131.95" r="3.2"/><circle cx="339.84" cy="131.39" r="3.2"/><circle cx="343.38" cy="132.59" r="3.2"/><circle cx="346.92" cy="136.07" r="3.2"/><circle cx="350.46" cy="138.07" r="3.2"/><circle cx="354" cy="141.01" r="3.2"/></g>
</g>
<path d="M298.2 137.44h-1.8M298.2 127.48h-1.8M298.2 117.52h-1.8M298.2 107.56h-1.8M298.2 87.64h-1.8" stroke="#000" stroke-width="0.6" fill="none"/>
<path d="M298.2 147.4h-3.2M298.2 97.6h-3.2M300.3 147.4v3.2M346.2 147.4v3.2" stroke="#000" stroke-width="0.8" fill="none"/>
<rect x="298.2" y="83.7" width="58.2" height="63.7" fill="none" stroke="#000" stroke-width="0.8"/>
<text x="291.8" y="150.75" font-size="9.6" text-anchor="end" textLength="5.8" lengthAdjust="spacingAndGlyphs">0</text>
<text x="291.8" y="100.95" font-size="9.6" text-anchor="end" textLength="5.8" lengthAdjust="spacingAndGlyphs">1</text>
<text x="300.3" y="160.73" font-size="9.6" text-anchor="middle" textLength="14.5" lengthAdjust="spacingAndGlyphs">0.0</text>
<text x="346.2" y="160.73" font-size="9.6" text-anchor="middle" textLength="14.5" lengthAdjust="spacingAndGlyphs">0.2</text>
<text class="L" x="300.5" y="93.6" font-size="10.6" textLength="10.24" lengthAdjust="spacingAndGlyphs">h)</text>
<g clip-path="url(#ci)">
<g fill="#1f77b4"><circle cx="49.9" cy="181.13" r="3.2"/><circle cx="51.78" cy="182.44" r="3.2"/><circle cx="53.45" cy="183.26" r="3.2"/><circle cx="54.95" cy="184.23" r="3.2"/><circle cx="56.28" cy="185.68" r="3.2"/><circle cx="57.1" cy="187.37" r="3.2"/><circle cx="57.58" cy="189.72" r="3.2"/><circle cx="58.27" cy="191.23" r="3.2"/><circle cx="60.11" cy="192.66" r="3.2"/><circle cx="62.04" cy="193.46" r="3.2"/><circle cx="63.98" cy="193.74" r="3.2"/><circle cx="65.9" cy="194.09" r="3.2"/><circle cx="67.72" cy="194.67" r="3.2"/><circle cx="69.34" cy="195.77" r="3.2"/><circle cx="70.84" cy="196.88" r="3.2"/><circle cx="72.25" cy="199.06" r="3.2"/><circle cx="73.64" cy="200.62" r="3.2"/><circle cx="75.03" cy="202.14" r="3.2"/><circle cx="76.41" cy="203.23" r="3.2"/><circle cx="77.61" cy="204.97" r="3.2"/><circle cx="78.8" cy="206.78" r="3.2"/><circle cx="80.13" cy="207.28" r="3.2"/><circle cx="81.47" cy="209.26" r="3.2"/><circle cx="83.38" cy="209.79" r="3.2"/><circle cx="85.32" cy="209.92" r="3.2"/><circle cx="87.28" cy="210.74" r="3.2"/><circle cx="89.26" cy="209.76" r="3.2"/><circle cx="91.05" cy="210.55" r="3.2"/><circle cx="92.7" cy="212.26" r="3.2"/><circle cx="94.38" cy="212.7" r="3.2"/><circle cx="96.13" cy="214.29" r="3.2"/><circle cx="97.96" cy="215.09" r="3.2"/><circle cx="99.73" cy="215.41" r="3.2"/><circle cx="101.5" cy="216.5" r="3.2"/><circle cx="103.26" cy="217.84" r="3.2"/><circle cx="104.9" cy="218.89" r="3.2"/></g>
<g fill="#ff7f0e"><circle cx="49.3" cy="223.77" r="3.2"/><circle cx="51.12" cy="223.29" r="3.2"/><circle cx="53.02" cy="223.2" r="3.2"/><circle cx="54.88" cy="222.63" r="3.2"/><circle cx="56.46" cy="220.82" r="3.2"/><circle cx="57.38" cy="222.59" r="3.2"/><circle cx="58.11" cy="223.41" r="3.2"/><circle cx="58.85" cy="225.3" r="3.2"/><circle cx="60.22" cy="224.81" r="3.2"/><circle cx="61.69" cy="223.09" r="3.2"/><circle cx="63.69" cy="222.71" r="3.2"/><circle cx="65.67" cy="223.42" r="3.2"/><circle cx="67.61" cy="224.38" r="3.2"/><circle cx="69.56" cy="224.25" r="3.2"/><circle cx="71.51" cy="223.86" r="3.2"/><circle cx="73.49" cy="223.06" r="3.2"/><circle cx="75.48" cy="222.42" r="3.2"/><circle cx="77.46" cy="222.39" r="3.2"/><circle cx="79.42" cy="222.4" r="3.2"/><circle cx="81.35" cy="221.66" r="3.2"/><circle cx="83.29" cy="221.18" r="3.2"/><circle cx="85.23" cy="221.89" r="3.2"/><circle cx="87.19" cy="222.4" r="3.2"/><circle cx="89.17" cy="222.99" r="3.2"/><circle cx="91.13" cy="223" r="3.2"/><circle cx="93.09" cy="223.25" r="3.2"/><circle cx="95.07" cy="224.17" r="3.2"/><circle cx="97.06" cy="224.33" r="3.2"/><circle cx="99.06" cy="223.55" r="3.2"/><circle cx="101.02" cy="224.31" r="3.2"/><circle cx="102.95" cy="224.84" r="3.2"/><circle cx="104.9" cy="224.52" r="3.2"/></g>
</g>
<path d="M47.45 221.16h-1.8M47.45 212.02h-1.8M47.45 202.88h-1.8M47.45 193.74h-1.8M47.45 175.46h-1.8" stroke="#000" stroke-width="0.6" fill="none"/>
<path d="M47.45 230.3h-3.2M47.45 184.6h-3.2M50.2 230.3v3.2M79.8 230.3v3.2" stroke="#000" stroke-width="0.8" fill="none"/>
<rect x="47.45" y="167.15" width="58.55" height="63.15" fill="none" stroke="#000" stroke-width="0.8"/>
<text x="41.05" y="233.65" font-size="9.6" text-anchor="end" textLength="5.8" lengthAdjust="spacingAndGlyphs">0</text>
<text x="41.05" y="187.95" font-size="9.6" text-anchor="end" textLength="5.8" lengthAdjust="spacingAndGlyphs">1</text>
<text x="50.2" y="243.63" font-size="9.6" text-anchor="middle" textLength="14.5" lengthAdjust="spacingAndGlyphs">0.0</text>
<text x="79.8" y="243.63" font-size="9.6" text-anchor="middle" textLength="14.5" lengthAdjust="spacingAndGlyphs">0.2</text>
<text class="L" x="49.75" y="177.05" font-size="10.6" textLength="6.68" lengthAdjust="spacingAndGlyphs">i)</text>
<g clip-path="url(#cj)">
<g fill="#1f77b4"><circle cx="133.3" cy="187.51" r="3.2"/><circle cx="135.04" cy="186.92" r="3.2"/><circle cx="136.77" cy="187.38" r="3.2"/><circle cx="138.5" cy="186.78" r="3.2"/><circle cx="140" cy="192.48" r="3.2"/><circle cx="141.65" cy="193.73" r="3.2"/><circle cx="143.32" cy="194.54" r="3.2"/><circle cx="145.03" cy="195.58" r="3.2"/><circle cx="146.86" cy="196.54" r="3.2"/><circle cx="148.76" cy="196.27" r="3.2"/><circle cx="150.71" cy="196.5" r="3.2"/><circle cx="152.62" cy="197.58" r="3.2"/><circle cx="154.56" cy="197.58" r="3.2"/><circle cx="156.44" cy="197.48" r="3.2"/><circle cx="158.12" cy="196.82" r="3.2"/><circle cx="159.58" cy="197.51" r="3.2"/><circle cx="160.98" cy="198.9" r="3.2"/><circle cx="162.51" cy="200.05" r="3.2"/><circle cx="164.08" cy="201.5" r="3.2"/><circle cx="165.8" cy="201.76" r="3.2"/><circle cx="168.1" cy="197.66" r="3.2"/><circle cx="169.4" cy="195.97" r="3.2"/><circle cx="170.7" cy="194.92" r="3.2"/><circle cx="173.3" cy="187.79" r="3.2"/><circle cx="174.01" cy="186.08" r="3.2"/><circle cx="174.72" cy="184.33" r="3.2"/><circle cx="175.99" cy="182.99" r="3.2"/><circle cx="177.64" cy="182.04" r="3.2"/><circle cx="179.5" cy="180.61" r="3.2"/><circle cx="181.28" cy="180.91" r="3.2"/><circle cx="182.99" cy="182.25" r="3.2"/><circle cx="184.52" cy="180.56" r="3.2"/><circle cx="186.23" cy="179.37" r="3.2"/><circle cx="187.73" cy="180.31" r="3.2"/><circle cx="188.9" cy="181.35" r="3.2"/></g>
<g fill="#ff7f0e"><circle cx="133.3" cy="220.99" r="3.2"/><circle cx="135.05" cy="221.84" r="3.2"/><circle cx="136.78" cy="220.76" r="3.2"/><circle cx="138.5" cy="220.46" r="3.2"/><circle cx="139.8" cy="210.9" r="3.2"/><circle cx="141.69" cy="210.13" r="3.2"/><circle cx="143.66" cy="210.48" r="3.2"/><circle cx="145.49" cy="211.93" r="3.2"/><circle cx="147.2" cy="212.57" r="3.2"/><circle cx="149" cy="217.41" r="3.2"/><circle cx="150.9" cy="217.61" r="3.2"/><circle cx="152.79" cy="217.01" r="3.2"/><circle cx="154.64" cy="216" r="3.2"/><circle cx="156.39" cy="216.92" r="3.2"/><circle cx="158.32" cy="217.98" r="3.2"/><circle cx="160.25" cy="217.94" r="3.2"/><circle cx="162.12" cy="218.64" r="3.2"/><circle cx="163.93" cy="217.83" r="3.2"/><circle cx="165.7" cy="216.98" r="3.2"/><circle cx="167.44" cy="216.28" r="3.2"/><circle cx="169.11" cy="215.51" r="3.2"/><circle cx="170.9" cy="214.47" r="3.2"/><circle cx="172.74" cy="213.81" r="3.2"/><circle cx="174.4" cy="214.78" r="3.2"/><circle cx="176.05" cy="215.93" r="3.2"/><circle cx="177.69" cy="217.11" r="3.2"/><circle cx="179.32" cy="215.42" r="3.2"/><circle cx="180.97" cy="215.05" r="3.2"/><circle cx="182.64" cy="214.05" r="3.2"/><circle cx="184.3" cy="212.19" r="3.2"/><circle cx="186.06" cy="211.37" r="3.2"/><circle cx="188" cy="211.13" r="3.2"/></g>
</g>
<path d="M131.1 221.16h-1.8M131.1 212.02h-1.8M131.1 202.88h-1.8M131.1 193.74h-1.8M131.1 175.46h-1.8" stroke="#000" stroke-width="0.6" fill="none"/>
<path d="M131.1 230.3h-3.2M131.1 184.6h-3.2M133.2 230.3v3.2M169.1 230.3v3.2" stroke="#000" stroke-width="0.8" fill="none"/>
<rect x="131.1" y="167.15" width="58.5" height="63.15" fill="none" stroke="#000" stroke-width="0.8"/>
<text x="124.7" y="233.65" font-size="9.6" text-anchor="end" textLength="14.5" lengthAdjust="spacingAndGlyphs">0.0</text>
<text x="124.7" y="187.95" font-size="9.6" text-anchor="end" textLength="14.5" lengthAdjust="spacingAndGlyphs">0.5</text>
<text x="133.2" y="243.63" font-size="9.6" text-anchor="middle" textLength="20.31" lengthAdjust="spacingAndGlyphs">0.00</text>
<text x="169.1" y="243.63" font-size="9.6" text-anchor="middle" textLength="20.31" lengthAdjust="spacingAndGlyphs">0.25</text>
<text class="L" x="133.4" y="177.05" font-size="10.6" textLength="6.68" lengthAdjust="spacingAndGlyphs">j)</text>
<text x="113.52" y="267.7" font-size="11.4" textLength="47.84" lengthAdjust="spacingAndGlyphs" class="L">Distance</text>
<text x="164.84" y="267.7" font-size="11.4" textLength="30.31" lengthAdjust="spacingAndGlyphs" class="L">along</text>
<text x="198.63" y="267.7" font-size="11.4" textLength="17.95" lengthAdjust="spacingAndGlyphs" class="L">the</text>
<text x="220.06" y="267.7" font-size="11.4" textLength="45.25" lengthAdjust="spacingAndGlyphs" class="L">filament</text>
<text x="268.78" y="267.7" font-size="11.4" textLength="21.5" lengthAdjust="spacingAndGlyphs" class="L">(pc)</text>
<g transform="translate(10.55,191.7) rotate(-90)">
<text class="L" x="0" y="0" font-size="11.4" textLength="6.93" lengthAdjust="spacingAndGlyphs" font-style="italic">σ</text>
<text class="L" x="6.93" y="2" font-size="7.98" textLength="4.53" lengthAdjust="spacingAndGlyphs" font-style="italic">v</text>
<text class="L" x="14.94" y="0" font-size="11.4" textLength="20.58" lengthAdjust="spacingAndGlyphs">and</text>
<text class="L" x="39" y="0" font-size="11.4" textLength="37.49" lengthAdjust="spacingAndGlyphs">shifted</text>
<text class="L" x="79.97" y="0" font-size="11.4" textLength="6.47" lengthAdjust="spacingAndGlyphs" font-style="italic">v</text>
<text class="L" x="86.44" y="2" font-size="7.98" textLength="14.45" lengthAdjust="spacingAndGlyphs">LSR</text>
<text class="L" x="104.37" y="0" font-size="11.4" textLength="21.26" lengthAdjust="spacingAndGlyphs">(km</text>
<text class="L" x="129.11" y="0" font-size="11.4" textLength="5.7" lengthAdjust="spacingAndGlyphs">s</text>
<text class="L" x="134.81" y="-6.3" font-size="7.98" textLength="11.29" lengthAdjust="spacingAndGlyphs">−1</text>
<text class="L" x="146.1" y="0" font-size="11.4" textLength="4.27" lengthAdjust="spacingAndGlyphs">)</text>
</g>
</svg></body></html>
